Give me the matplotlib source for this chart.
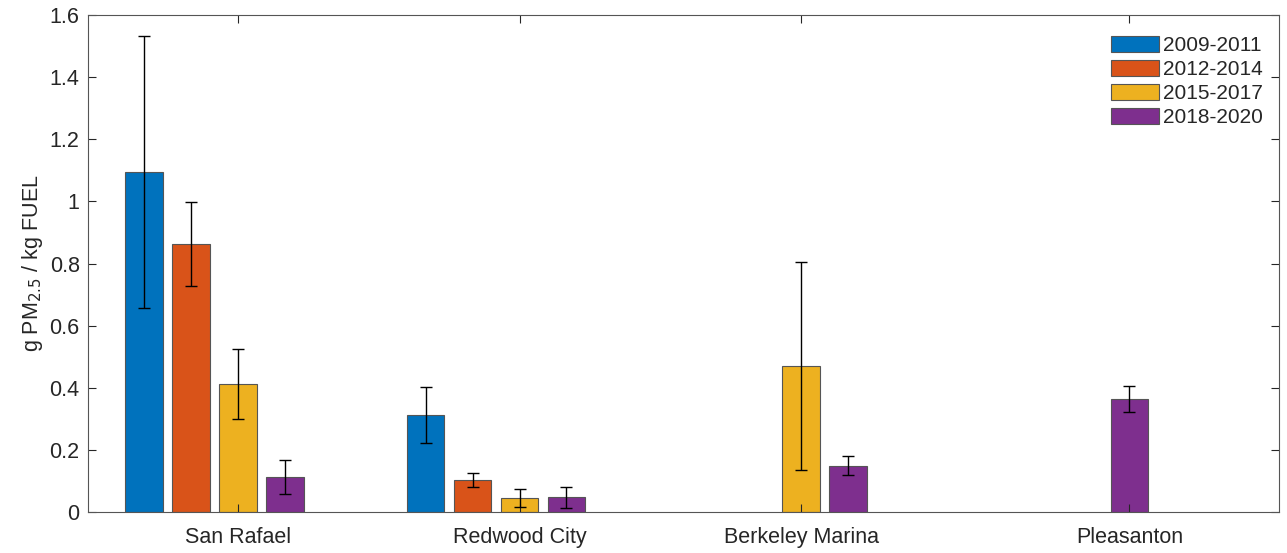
import numpy as np
import matplotlib.pyplot as plt

plt.rcParams['font.family'] = ['Liberation Sans', 'DejaVu Sans']

sites = ['San Rafael', 'Redwood City', 'Berkeley Marina', 'Pleasanton']
periods = ['2009-2011', '2012-2014', '2015-2017', '2018-2020']

# mean emission factor per site (rows) and period (columns); nan = no data
ef = np.array([
    [1.095, 0.862, 0.413, 0.112],
    [0.312, 0.103, 0.045, 0.048],
    [np.nan, np.nan, 0.470, 0.149],
    [np.nan, np.nan, np.nan, 0.363],
])
ef_err = np.array([
    [0.438, 0.135, 0.112, 0.055],
    [0.091, 0.022, 0.028, 0.034],
    [np.nan, np.nan, 0.335, 0.031],
    [np.nan, np.nan, np.nan, 0.042],
])
# which period's bar each site label sits under
label_period = [2, 2, 2, 3]

colors = ['#0072BD', '#D95319', '#EDB120', '#7E2F8E']
offsets = np.array([-0.2504, -0.0835, 0.0835, 0.2504])
width = 0.133
grey = '#262626'

fig = plt.figure(figsize=(12.87, 5.53), dpi=100)
ax = fig.add_axes([88 / 1287, (553 - 512) / 553, (1279 - 88) / 1287, (512 - 15) / 553])

x = np.arange(1, len(sites) + 1)
for j, p in enumerate(periods):
    ax.bar(x + offsets[j], ef[:, j], width, color=colors[j], edgecolor='#555555',
           linewidth=0.8, label=p)
    ax.errorbar(x + offsets[j], ef[:, j], yerr=ef_err[:, j], fmt='none',
                ecolor='black', elinewidth=1.0, capsize=4.5, capthick=1.0)

ax.set_xlim(0.5506, 4.7815)
ax.set_ylim(0, 1.6)
ax.set_yticks(np.arange(0, 1.61, 0.2))
ax.set_yticklabels(['0', '0.2', '0.4', '0.6', '0.8', '1', '1.2', '1.4', '1.6'])
ax.set_xticks(x + offsets[label_period])
ax.set_xticklabels(sites)
ax.tick_params(direction='in', length=6, width=0.8, colors=grey, labelsize=15.5,
               top=True, right=True, pad=11)
ax.tick_params(axis='y', pad=6)
for s in ax.spines.values():
    s.set_color('#555555')
    s.set_linewidth(0.8)

ax.set_ylabel('g PM$_{2.5}$ / kg FUEL', fontsize=15.5, color=grey, labelpad=3)

ax.legend(loc='upper right', bbox_to_anchor=(0.9985, 0.988), frameon=False, fontsize=15,
          handlelength=2.3, handleheight=0.85, handletextpad=0.2, labelspacing=0.22,
          borderaxespad=0.3, labelcolor=grey)

fig.savefig('out.png', dpi=100)
